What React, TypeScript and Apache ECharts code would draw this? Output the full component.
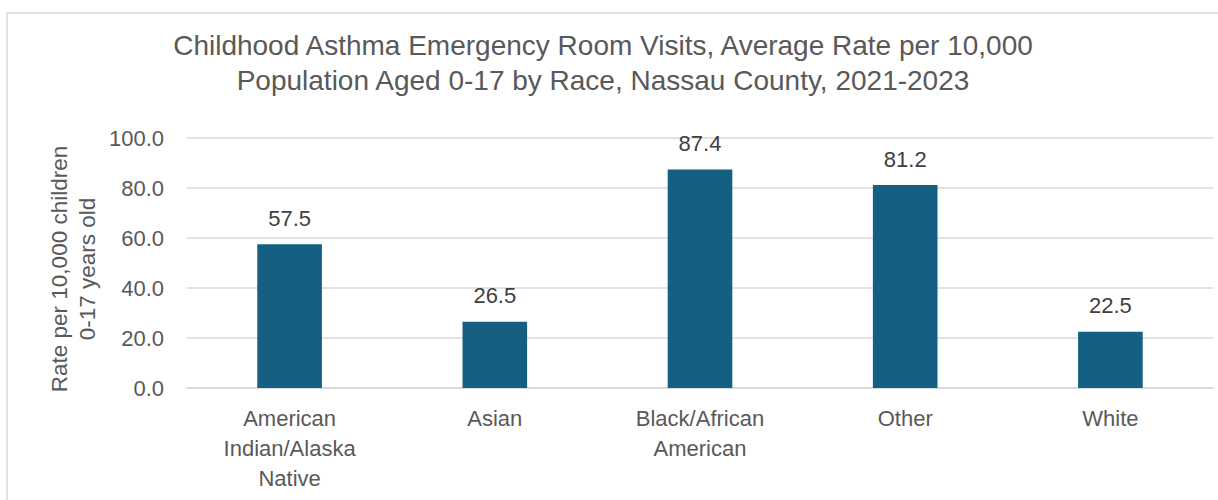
import React, { useEffect, useRef } from "react";
import * as echarts from "echarts";

const categories = ["American\nIndian/Alaska\nNative", "Asian", "Black/African\nAmerican", "Other", "White"];
const values = [57.5, 26.5, 87.4, 81.2, 22.5];
const titleLines = [
  "Childhood Asthma Emergency Room Visits, Average Rate per 10,000",
  "Population Aged 0-17 by Race, Nassau County, 2021-2023",
];
const yAxisTitle = "Rate per 10,000 children\n0-17 years old";

const FONT = "'Liberation Sans', Arial, sans-serif";

export default function App() {
  const ref = useRef<HTMLDivElement>(null);
  useEffect(() => {
    const chart = echarts.init(ref.current!, null, { renderer: "svg" });
    chart.setOption({
      animation: false,
      backgroundColor: "#ffffff",
      textStyle: { fontFamily: FONT },
      grid: { left: 187, right: 5, top: 138, bottom: 112, containLabel: false },
      xAxis: {
        type: "category",
        data: categories,
        axisLine: { lineStyle: { color: "#d9d9d9", width: 1.5 } },
        axisTick: { show: false },
        axisLabel: { color: "#595959", fontSize: 22, fontFamily: FONT, lineHeight: 30, margin: 15, interval: 0 },
      },
      yAxis: {
        type: "value",
        min: 0,
        max: 100,
        interval: 20,
        axisLabel: {
          color: "#595959",
          fontSize: 22,
          fontFamily: FONT,
          margin: 23,
          formatter: (v: number) => v.toFixed(1),
        },
        axisLine: { show: false },
        axisTick: { show: false },
        splitLine: { lineStyle: { color: "#d9d9d9", width: 1.5 } },
      },
      series: [
        {
          type: "bar",
          data: values,
          barWidth: "31.5%",
          itemStyle: { color: "#156082" },
          label: {
            show: true,
            position: "top",
            distance: 15,
            color: "#404040",
            fontSize: 22,
            fontFamily: FONT,
            formatter: (p: any) => Number(p.value).toFixed(1),
          },
        },
      ],
      graphic: [
        {
          type: "rect",
          shape: { x: 7, y: 13, width: 1230, height: 520 },
          style: { fill: "none", stroke: "#d9d9d9", lineWidth: 1.5 },
          silent: true,
        },
        {
          type: "text",
          x: 603,
          y: 45,
          style: { text: titleLines[0], fill: "#595959", font: `28px ${FONT}`, align: "center", verticalAlign: "middle" },
        },
        {
          type: "text",
          x: 603,
          y: 80,
          style: { text: titleLines[1], fill: "#595959", font: `28px ${FONT}`, align: "center", verticalAlign: "middle" },
        },
        {
          type: "text",
          x: 73,
          y: 269,
          rotation: Math.PI / 2,
          style: {
            text: yAxisTitle,
            fill: "#595959",
            font: `22.5px ${FONT}`,
            align: "center",
            verticalAlign: "middle",
            lineHeight: 28,
          },
        },
      ],
    });
    return () => chart.dispose();
  }, []);
  return <div ref={ref} style={{ position: "absolute", left: 0, top: 0, width: 1218, height: 500 }} />;
}
